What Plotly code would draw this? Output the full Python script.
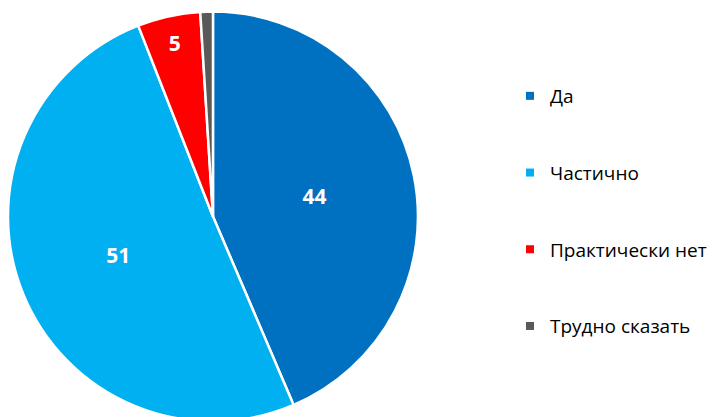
import plotly.graph_objects as go

labels = ["Да", "Частично", "Практически нет", "Трудно сказать"]
values = [44, 51, 5, 1]
colors = ["#0070C0", "#00B0F0", "#FF0000", "#595959"]
shown_text = [str(v) if v >= 5 else "" for v in values]

W, H = 723, 417
fig = go.Figure()
fig.add_trace(go.Pie(
    labels=labels, values=values, sort=False, direction="clockwise", rotation=0,
    marker=dict(colors=colors, line=dict(color="white", width=2.5)),
    text=shown_text, textinfo="text", textposition="inside",
    insidetextorientation="horizontal",
    textfont=dict(color="white", size=21, family="Open Sans", weight="bold"),
    domain=dict(x=[0, 0.567], y=[0, 1]),
    showlegend=False, hoverinfo="label+value",
))
for lab, col in zip(labels, colors):
    fig.add_trace(go.Scatter(
        x=[None], y=[None], mode="markers", name=lab, legendgroup=lab,
        marker=dict(symbol="square", size=8, color=col),
    ))

fig.update_layout(
    width=W, height=H, margin=dict(l=0, r=0, t=0, b=0),
    paper_bgcolor="white", plot_bgcolor="white",
    xaxis=dict(visible=False), yaxis=dict(visible=False),
    legend=dict(x=502 / W, y=1 - 69 / H, xanchor="left", yanchor="top",
                tracegroupgap=49, traceorder="grouped",
                font=dict(family="Open Sans", size=19, color="#000000"),
                itemwidth=30),
    showlegend=True,
)
fig.write_html("out.html")
